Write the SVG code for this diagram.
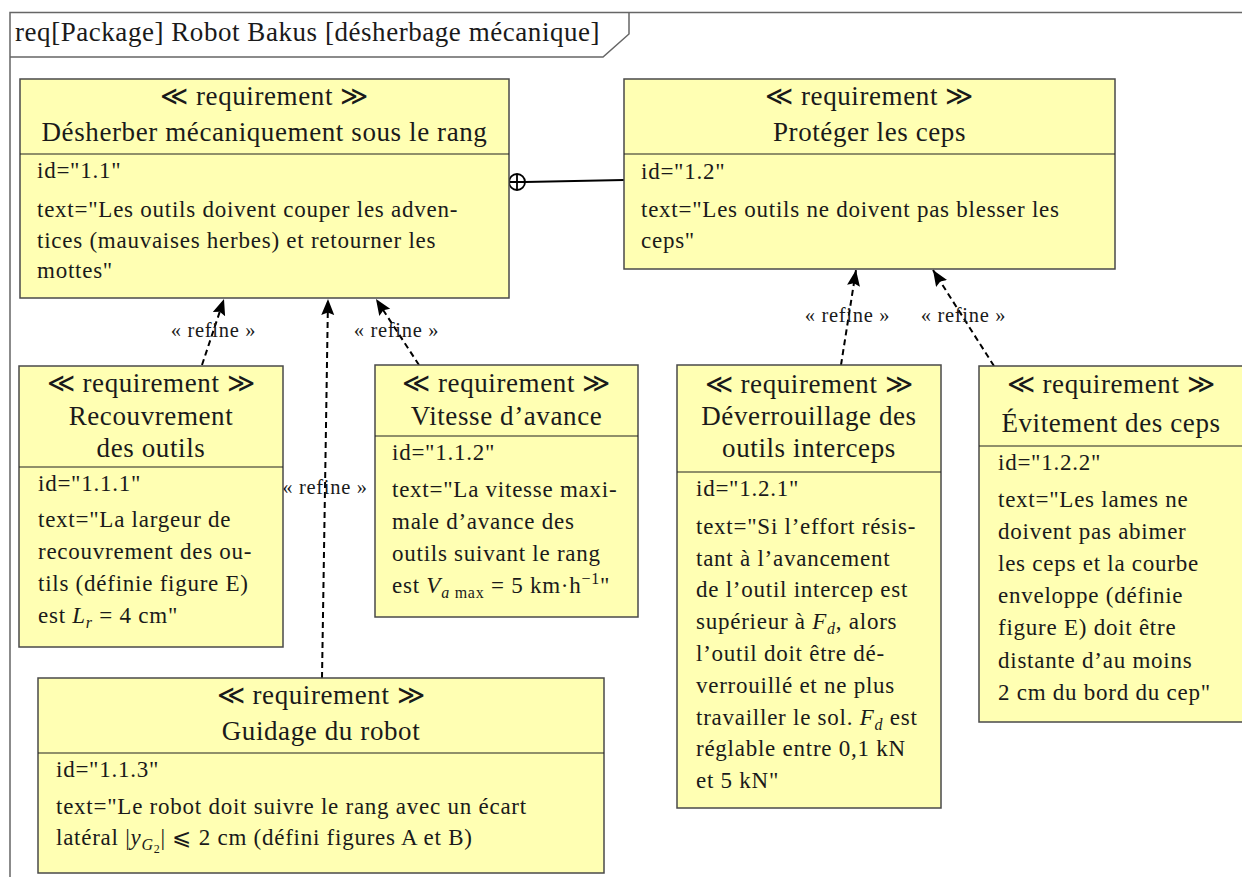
<svg xmlns="http://www.w3.org/2000/svg" width="1242" height="877" viewBox="0 0 1242 877">
<style>
text{font-family:"Liberation Serif","DejaVu Serif",serif;fill:#1a1a1a}
.h{font-size:27px;letter-spacing:0.6px;text-anchor:middle}
.b{font-size:23px;letter-spacing:0.75px}
.lbl{font-size:20.5px;letter-spacing:0.7px;text-anchor:middle}
.i{font-style:italic}
.s{font-size:16px}
.ss{font-size:12px}
.box{fill:#ffffb3;stroke:#4a4a4a;stroke-width:1.5}
.dv{stroke:#222;stroke-width:1.2}
.frame{fill:none;stroke:#666;stroke-width:1.5}
.ref{fill:none;stroke:#000;stroke-width:2;stroke-dasharray:6 4;marker-end:url(#arr)}
.cont{fill:none;stroke:#000;stroke-width:1.8}
</style>
<defs>
<marker id="arr" markerUnits="userSpaceOnUse" markerWidth="20" markerHeight="16" refX="16" refY="6.5" orient="auto">
<path d="M0,0 L16,6.5 L0,13 L2.5,6.5 z" fill="#000"/>
</marker>
</defs>
<rect width="1242" height="877" fill="#fff"/>
<g id="frame">
<path class="frame" d="M10,877 V12.5 H1242"/>
<path class="frame" d="M10,57 H603 L629,34 V12.5"/>
<text x="15" y="41" style="font-size:27px;letter-spacing:0.55px">req[Package] Robot Bakus [désherbage mécanique]</text>
</g>
<g id="connectors">
<line class="ref" x1="202" y1="365" x2="224" y2="299"/>
<line class="ref" x1="322" y1="678" x2="328" y2="299"/>
<line class="ref" x1="419" y1="365" x2="376" y2="299"/>
<line class="ref" x1="841" y1="365" x2="856" y2="270"/>
<line class="ref" x1="994" y1="366" x2="933" y2="270"/>
<line class="cont" x1="525" y1="182" x2="624" y2="180"/>
<circle class="cont" cx="517" cy="182" r="8" fill="#fff"/>
<path class="cont" d="M509,182 H525 M517,174 V190"/>
<text class="lbl" x="213.5" y="337">« refine »</text>
<text class="lbl" x="396.5" y="337">« refine »</text>
<text class="lbl" x="325" y="494">« refine »</text>
<text class="lbl" x="847.5" y="322">« refine »</text>
<text class="lbl" x="963.5" y="322">« refine »</text>
</g>
<g id="req-1-1">
<rect class="box" x="20" y="79" width="489" height="219"/>
<line class="dv" x1="20" y1="154" x2="509" y2="154"/>
<text class="h" x="264.5" y="105">≪ requirement ≫</text>
<text class="h" x="264.5" y="141">Désherber mécaniquement sous le rang</text>
<text class="b" x="37" y="178">id="1.1"</text>
<text class="b" x="37" y="217">text="Les outils doivent couper les adven-</text>
<text class="b" x="37" y="247.5">tices (mauvaises herbes) et retourner les</text>
<text class="b" x="37" y="278">mottes"</text>
</g>
<g id="req-1-2">
<rect class="box" x="624" y="79" width="491" height="190"/>
<line class="dv" x1="624" y1="154" x2="1115" y2="154"/>
<text class="h" x="869.5" y="105">≪ requirement ≫</text>
<text class="h" x="869.5" y="141">Protéger les ceps</text>
<text class="b" x="641" y="179">id="1.2"</text>
<text class="b" x="641" y="217">text="Les outils ne doivent pas blesser les</text>
<text class="b" x="641" y="247.5">ceps"</text>
</g>
<g id="req-1-1-1">
<rect class="box" x="19" y="366" width="264" height="281"/>
<line class="dv" x1="19" y1="467" x2="283" y2="467"/>
<text class="h" x="151" y="392">≪ requirement ≫</text>
<text class="h" x="151" y="425">Recouvrement</text>
<text class="h" x="151" y="457">des outils</text>
<text class="b" x="38" y="491">id="1.1.1"</text>
<text class="b" x="38" y="527">text="La largeur de</text>
<text class="b" x="38" y="559">recouvrement des ou-</text>
<text class="b" x="38" y="591">tils (définie figure E)</text>
<text class="b" x="38" y="623">est <tspan class="i">L</tspan><tspan class="i s" dy="5">r</tspan><tspan dy="-5"> = 4 cm"</tspan></text>
</g>
<g id="req-1-1-2">
<rect class="box" x="375" y="365" width="263" height="252"/>
<line class="dv" x1="375" y1="436" x2="638" y2="436"/>
<text class="h" x="506.5" y="392">≪ requirement ≫</text>
<text class="h" x="506.5" y="425">Vitesse d’avance</text>
<text class="b" x="392" y="460">id="1.1.2"</text>
<text class="b" x="392" y="497">text="La vitesse maxi-</text>
<text class="b" x="392" y="529">male d’avance des</text>
<text class="b" x="392" y="561">outils suivant le rang</text>
<text class="b" x="392" y="593">est <tspan class="i">V</tspan><tspan class="s" dy="5"><tspan class="i">a</tspan> max</tspan><tspan dy="-5"> = 5 km·h</tspan><tspan class="s" dy="-9">−1</tspan><tspan dy="9">"</tspan></text>
</g>
<g id="req-1-1-3">
<rect class="box" x="38" y="678" width="566" height="195"/>
<line class="dv" x1="38" y1="753" x2="604" y2="753"/>
<text class="h" x="321" y="704">≪ requirement ≫</text>
<text class="h" x="321" y="740">Guidage du robot</text>
<text class="b" x="56" y="777">id="1.1.3"</text>
<text class="b" x="56" y="814">text="Le robot doit suivre le rang avec un écart</text>
<text class="b" x="56" y="845">latéral |<tspan class="i">y</tspan><tspan class="i s" dy="5">G</tspan><tspan class="ss" dy="3">2</tspan><tspan dy="-8">| ⩽ 2 cm (défini figures A et B)</tspan></text>
</g>
<g id="req-1-2-1">
<rect class="box" x="677" y="365" width="264" height="443"/>
<line class="dv" x1="677" y1="472" x2="941" y2="472"/>
<text class="h" x="809" y="393">≪ requirement ≫</text>
<text class="h" x="809" y="425">Déverrouillage des</text>
<text class="h" x="809" y="457">outils interceps</text>
<text class="b" x="696" y="496">id="1.2.1"</text>
<text class="b" x="696" y="534">text="Si l’effort résis-</text>
<text class="b" x="696" y="566">tant à l’avancement</text>
<text class="b" x="696" y="597">de l’outil intercep est</text>
<text class="b" x="696" y="629">supérieur à <tspan class="i">F</tspan><tspan class="i s" dy="5">d</tspan><tspan dy="-5">, alors</tspan></text>
<text class="b" x="696" y="661">l’outil doit être dé-</text>
<text class="b" x="696" y="693">verrouillé et ne plus</text>
<text class="b" x="696" y="725">travailler le sol. <tspan class="i">F</tspan><tspan class="i s" dy="5">d</tspan><tspan dy="-5"> est</tspan></text>
<text class="b" x="696" y="756">réglable entre 0,1 kN</text>
<text class="b" x="696" y="788">et 5 kN"</text>
</g>
<g id="req-1-2-2">
<rect class="box" x="979" y="366" width="264" height="356"/>
<line class="dv" x1="979" y1="446" x2="1243" y2="446"/>
<text class="h" x="1111" y="393">≪ requirement ≫</text>
<text class="h" x="1111" y="432">Évitement des ceps</text>
<text class="b" x="998" y="470">id="1.2.2"</text>
<text class="b" x="998" y="507">text="Les lames ne</text>
<text class="b" x="998" y="539">doivent pas abimer</text>
<text class="b" x="998" y="571">les ceps et la courbe</text>
<text class="b" x="998" y="603">enveloppe (définie</text>
<text class="b" x="998" y="635">figure E) doit être</text>
<text class="b" x="998" y="668">distante d’au moins</text>
<text class="b" x="998" y="700">2 cm du bord du cep"</text>
</g>
</svg>
